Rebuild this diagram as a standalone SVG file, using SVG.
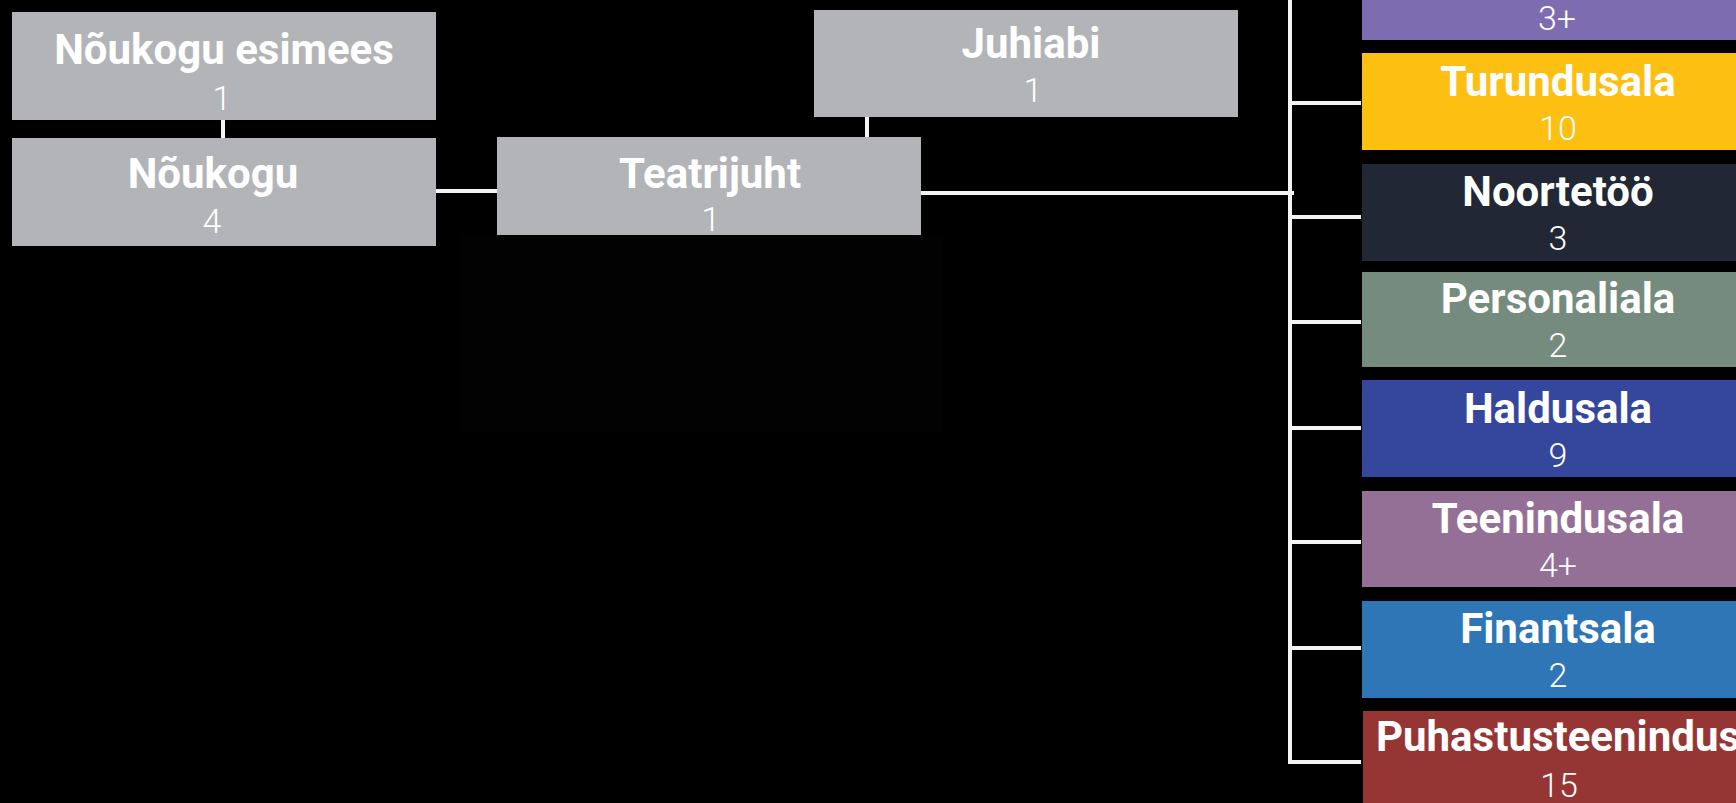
<svg xmlns="http://www.w3.org/2000/svg" width="1736" height="803" viewBox="0 0 1736 803">
<style>
.t{font-family:Roboto,"Liberation Sans",sans-serif;font-weight:700;font-size:42px;fill:#ffffff;text-anchor:middle}
.n{font-family:Roboto,"Liberation Sans",sans-serif;font-weight:300;font-size:34px;fill:#ffffff;text-anchor:middle}
.g{fill:#b3b4b7}
.c{stroke:#f4f4f4;stroke-width:4;fill:none}
</style>
<rect x="0" y="0" width="1736" height="803" fill="#000000"/>
<rect x="462" y="236" width="481" height="196" fill="#020202"/>
<g id="connectors">
<line class="c" x1="223" y1="120" x2="223" y2="138"/>
<line class="c" x1="436" y1="191" x2="497" y2="191"/>
<line class="c" x1="867" y1="117" x2="867" y2="137"/>
<line class="c" x1="921" y1="193" x2="1294" y2="193"/>
<polyline class="c" points="1290,0 1290,762 1361,762"/>
<line class="c" x1="1290" y1="103" x2="1361" y2="103"/>
<line class="c" x1="1290" y1="217" x2="1361" y2="217"/>
<line class="c" x1="1290" y1="322" x2="1361" y2="322"/>
<line class="c" x1="1290" y1="428" x2="1361" y2="428"/>
<line class="c" x1="1290" y1="542" x2="1361" y2="542"/>
<line class="c" x1="1290" y1="648" x2="1361" y2="648"/>
</g>
<g id="noukogu-esimees">
<rect class="g" x="12" y="12" width="424" height="108"/>
<text class="t" x="224" y="64">Nõukogu esimees</text>
<text class="n" x="222" y="110">1</text>
</g>
<g id="noukogu">
<rect class="g" x="12" y="138" width="424" height="108"/>
<text class="t" x="213" y="188">Nõukogu</text>
<text class="n" x="212" y="233">4</text>
</g>
<g id="teatrijuht">
<rect class="g" x="497" y="137" width="424" height="98"/>
<text class="t" x="710" y="188">Teatrijuht</text>
<text class="n" x="711" y="231">1</text>
</g>
<g id="juhiabi">
<rect class="g" x="814" y="10" width="424" height="107"/>
<text class="t" x="1031" y="58">Juhiabi</text>
<text class="n" x="1033" y="102">1</text>
</g>
<g id="unknown-top">
<rect x="1362" y="-57" width="394" height="97" fill="#7d6db0"/>
<text class="n" x="1557" y="30">3+</text>
</g>
<g id="turundusala">
<rect x="1362" y="53" width="394" height="97" fill="#fcbf12"/>
<text class="t" x="1558" y="96">Turundusala</text>
<text class="n" x="1558" y="140">10</text>
</g>
<g id="noortetoo">
<rect x="1362" y="164" width="394" height="97" fill="#212735"/>
<text class="t" x="1558" y="206">Noortetöö</text>
<text class="n" x="1558" y="250">3</text>
</g>
<g id="personaliala">
<rect x="1362" y="272" width="394" height="95" fill="#748b7d"/>
<text class="t" x="1558" y="313">Personaliala</text>
<text class="n" x="1558" y="357">2</text>
</g>
<g id="haldusala">
<rect x="1362" y="380" width="394" height="97" fill="#35479c"/>
<text class="t" x="1558" y="423">Haldusala</text>
<text class="n" x="1558" y="467">9</text>
</g>
<g id="teenindusala">
<rect x="1362" y="491" width="394" height="96" fill="#957096"/>
<text class="t" x="1558" y="533">Teenindusala</text>
<text class="n" x="1558" y="577">4+</text>
</g>
<g id="finantsala">
<rect x="1362" y="601" width="394" height="97" fill="#2e76b5"/>
<text class="t" x="1558" y="643">Finantsala</text>
<text class="n" x="1558" y="687">2</text>
</g>
<g id="puhastusteenindus">
<rect x="1363" y="711" width="394" height="100" fill="#953635"/>
<text class="t" x="1558" y="751">Puhastusteenindus</text>
<text class="n" x="1559" y="797">15</text>
</g>
</svg>
